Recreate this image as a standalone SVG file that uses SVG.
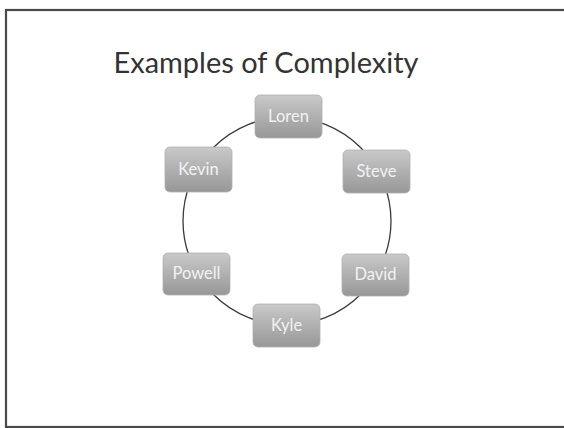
<svg xmlns="http://www.w3.org/2000/svg" width="564" height="428" viewBox="0 0 564 428">
<defs>
<linearGradient id="g" x1="0" y1="0" x2="0" y2="1">
<stop offset="0" stop-color="#c9c9c9"/>
<stop offset="1" stop-color="#979797"/>
</linearGradient>
<style>
.box{fill:url(#g);stroke:#b0b0b0;stroke-width:0.8}
.lbl{font-family:Lato,"Open Sans","Liberation Sans",sans-serif;font-size:16.5px;fill:#f2f2f2;text-anchor:middle}
.ring{fill:none;stroke:#3a3a3a;stroke-width:1.3}
</style>
</defs>
<rect x="0" y="0" width="564" height="428" fill="#ffffff"/>
<rect x="6" y="10" width="560" height="417" fill="none" stroke="#4a4a4a" stroke-width="2.2"/>
<text x="266" y="73" font-family="Lato,'Open Sans','Liberation Sans',sans-serif" font-size="28" fill="#333333" text-anchor="middle" textLength="305" lengthAdjust="spacingAndGlyphs">Examples of Complexity</text>
<g id="connectors">
<circle class="ring" cx="287" cy="221" r="104"/>
</g>
<g id="loren"><rect class="box" x="255" y="95" width="67" height="43" rx="5"/><text class="lbl" x="288.5" y="122">Loren</text></g>
<g id="kevin"><rect class="box" x="165" y="147" width="67" height="45" rx="5"/><text class="lbl" x="198.5" y="175">Kevin</text></g>
<g id="steve"><rect class="box" x="343" y="150" width="67" height="43" rx="5"/><text class="lbl" x="376.5" y="177">Steve</text></g>
<g id="powell"><rect class="box" x="163" y="253" width="67" height="42" rx="5"/><text class="lbl" x="196.5" y="279">Powell</text></g>
<g id="david"><rect class="box" x="342" y="254" width="67" height="42" rx="5"/><text class="lbl" x="375.5" y="280">David</text></g>
<g id="kyle"><rect class="box" x="253" y="304" width="67" height="43" rx="5"/><text class="lbl" x="286.5" y="331">Kyle</text></g>
</svg>
